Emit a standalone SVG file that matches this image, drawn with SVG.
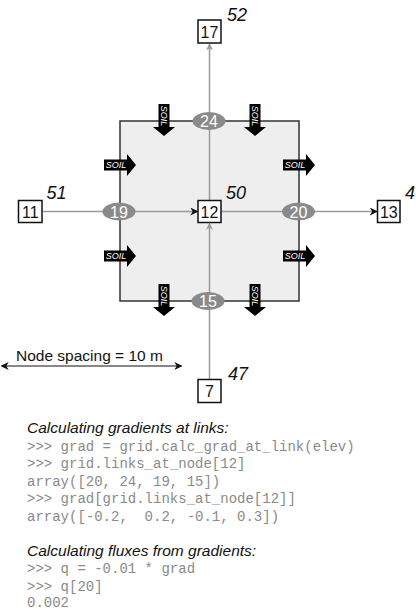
<svg xmlns="http://www.w3.org/2000/svg" width="416" height="610" viewBox="0 0 416 610">
<style>
.node rect{fill:#fff;stroke:#111;stroke-width:1.5}
.node text{font-family:"Liberation Sans",Arial,sans-serif;font-size:16px;fill:#111;text-anchor:middle}
.link ellipse{fill:#8a8a8a}
.link text{font-family:"Liberation Sans",Arial,sans-serif;font-size:16px;fill:#fff;text-anchor:middle}
.val{font-family:"Liberation Sans",Arial,sans-serif;font-size:18px;font-style:italic;fill:#111}
.hd{font-family:"Liberation Sans",Arial,sans-serif;font-size:15.5px;font-style:italic;fill:#111}
.code{font-family:"Liberation Mono","Courier New",monospace;font-size:14px;fill:#8a8a8a;white-space:pre}
.conn line{stroke:#9a9a9a;stroke-width:1.5}
</style>
<defs>
<marker id="ag" viewBox="0 0 10 10" refX="9" refY="5" markerWidth="7" markerHeight="7" orient="auto" markerUnits="userSpaceOnUse">
<path d="M0,0 L10,5 L0,10 L3,5 z" fill="#9a9a9a"/>
</marker>
<marker id="ak" viewBox="0 0 10 10" refX="9" refY="5" markerWidth="8" markerHeight="8" orient="auto" markerUnits="userSpaceOnUse">
<path d="M0,0 L10,5 L0,10 L3,5 z" fill="#111"/>
</marker>
<marker id="as" viewBox="0 0 10 10" refX="9" refY="5" markerWidth="8" markerHeight="8" orient="auto-start-reverse" markerUnits="userSpaceOnUse">
<path d="M0,0 L10,5 L0,10 L3,5 z" fill="#111"/>
</marker>
<g id="soilArrow">
<path d="M0,-5.5 L23,-5.5 L23,-11 L32,0 L23,11 L23,5.5 L0,5.5 z" fill="#000"/>
<text x="12" y="3.2" font-family="Liberation Sans,Arial,sans-serif" font-size="9" font-style="italic" fill="#fff" text-anchor="middle">SOIL</text>
</g>
</defs>

<rect id="cell" x="120" y="121" width="179" height="180" fill="#eeeeee" stroke="#333" stroke-width="1.5"/>

<g id="connectors" class="conn">
<line x1="209.5" y1="200.5" x2="209.5" y2="44" marker-end="url(#ag)"/>
<line x1="209.5" y1="379" x2="209.5" y2="223.5" marker-end="url(#ag)"/>
<line x1="42.5" y1="211.5" x2="197.5" y2="211.5" marker-end="url(#ak)"/>
<line x1="221" y1="211.5" x2="377" y2="211.5" marker-end="url(#ak)"/>
</g>

<g id="soil">
<use href="#soilArrow" transform="translate(104,165)"/>
<use href="#soilArrow" transform="translate(104,256)"/>
<use href="#soilArrow" transform="translate(283,165)"/>
<use href="#soilArrow" transform="translate(283,256)"/>
<use href="#soilArrow" transform="translate(164,104) rotate(90)"/>
<use href="#soilArrow" transform="translate(255,104) rotate(90)"/>
<use href="#soilArrow" transform="translate(164,284) rotate(90)"/>
<use href="#soilArrow" transform="translate(255,284) rotate(90)"/>
</g>

<g id="link24" class="link"><ellipse cx="209" cy="121" rx="16.5" ry="9"/><text x="209" y="127">24</text></g>
<g id="link19" class="link"><ellipse cx="119" cy="211.5" rx="16.5" ry="9"/><text x="119" y="217.5">19</text></g>
<g id="link20" class="link"><ellipse cx="298.5" cy="211.5" rx="16.5" ry="9"/><text x="298.5" y="217.5">20</text></g>
<g id="link15" class="link"><ellipse cx="208" cy="301" rx="16.5" ry="9"/><text x="208" y="307">15</text></g>

<g id="node17" class="node"><rect x="198" y="20" width="23" height="23"/><text x="209.5" y="37.5">17</text></g>
<g id="node12" class="node"><rect x="198" y="200.5" width="23" height="22"/><text x="209.5" y="217.5">12</text></g>
<g id="node11" class="node"><rect x="18.5" y="200.5" width="23.5" height="22"/><text x="30.3" y="217.5">11</text></g>
<g id="node13" class="node"><rect x="377.5" y="200.5" width="22.5" height="22"/><text x="388.8" y="217.5">13</text></g>
<g id="node7" class="node"><rect x="198" y="379.5" width="23" height="23"/><text x="209.5" y="396.5">7</text></g>

<text class="val" x="227" y="21">52</text>
<text class="val" x="46.5" y="199">51</text>
<text class="val" x="226" y="199">50</text>
<text class="val" x="405" y="199">4</text>
<text class="val" x="228" y="380">47</text>

<text x="16" y="361" font-family="Liberation Sans,Arial,sans-serif" font-size="15.5" fill="#111">Node spacing = 10 m</text>
<line x1="1.5" y1="366" x2="181.5" y2="366" stroke="#111" stroke-width="1" marker-start="url(#as)" marker-end="url(#as)"/>

<text class="hd" x="27" y="433">Calculating gradients at links:</text>
<text class="code" x="27" y="450.5">&gt;&gt;&gt; grad = grid.calc_grad_at_link(elev)</text>
<text class="code" x="27" y="468">&gt;&gt;&gt; grid.links_at_node[12]</text>
<text class="code" x="27" y="485.5">array([20, 24, 19, 15])</text>
<text class="code" x="27" y="503">&gt;&gt;&gt; grad[grid.links_at_node[12]]</text>
<text class="code" x="27" y="520.5">array([-0.2,  0.2, -0.1, 0.3])</text>
<text class="hd" x="27" y="556">Calculating fluxes from gradients:</text>
<text class="code" x="27" y="573">&gt;&gt;&gt; q = -0.01 * grad</text>
<text class="code" x="27" y="590.5">&gt;&gt;&gt; q[20]</text>
<text class="code" x="27" y="606.5">0.002</text>
</svg>
